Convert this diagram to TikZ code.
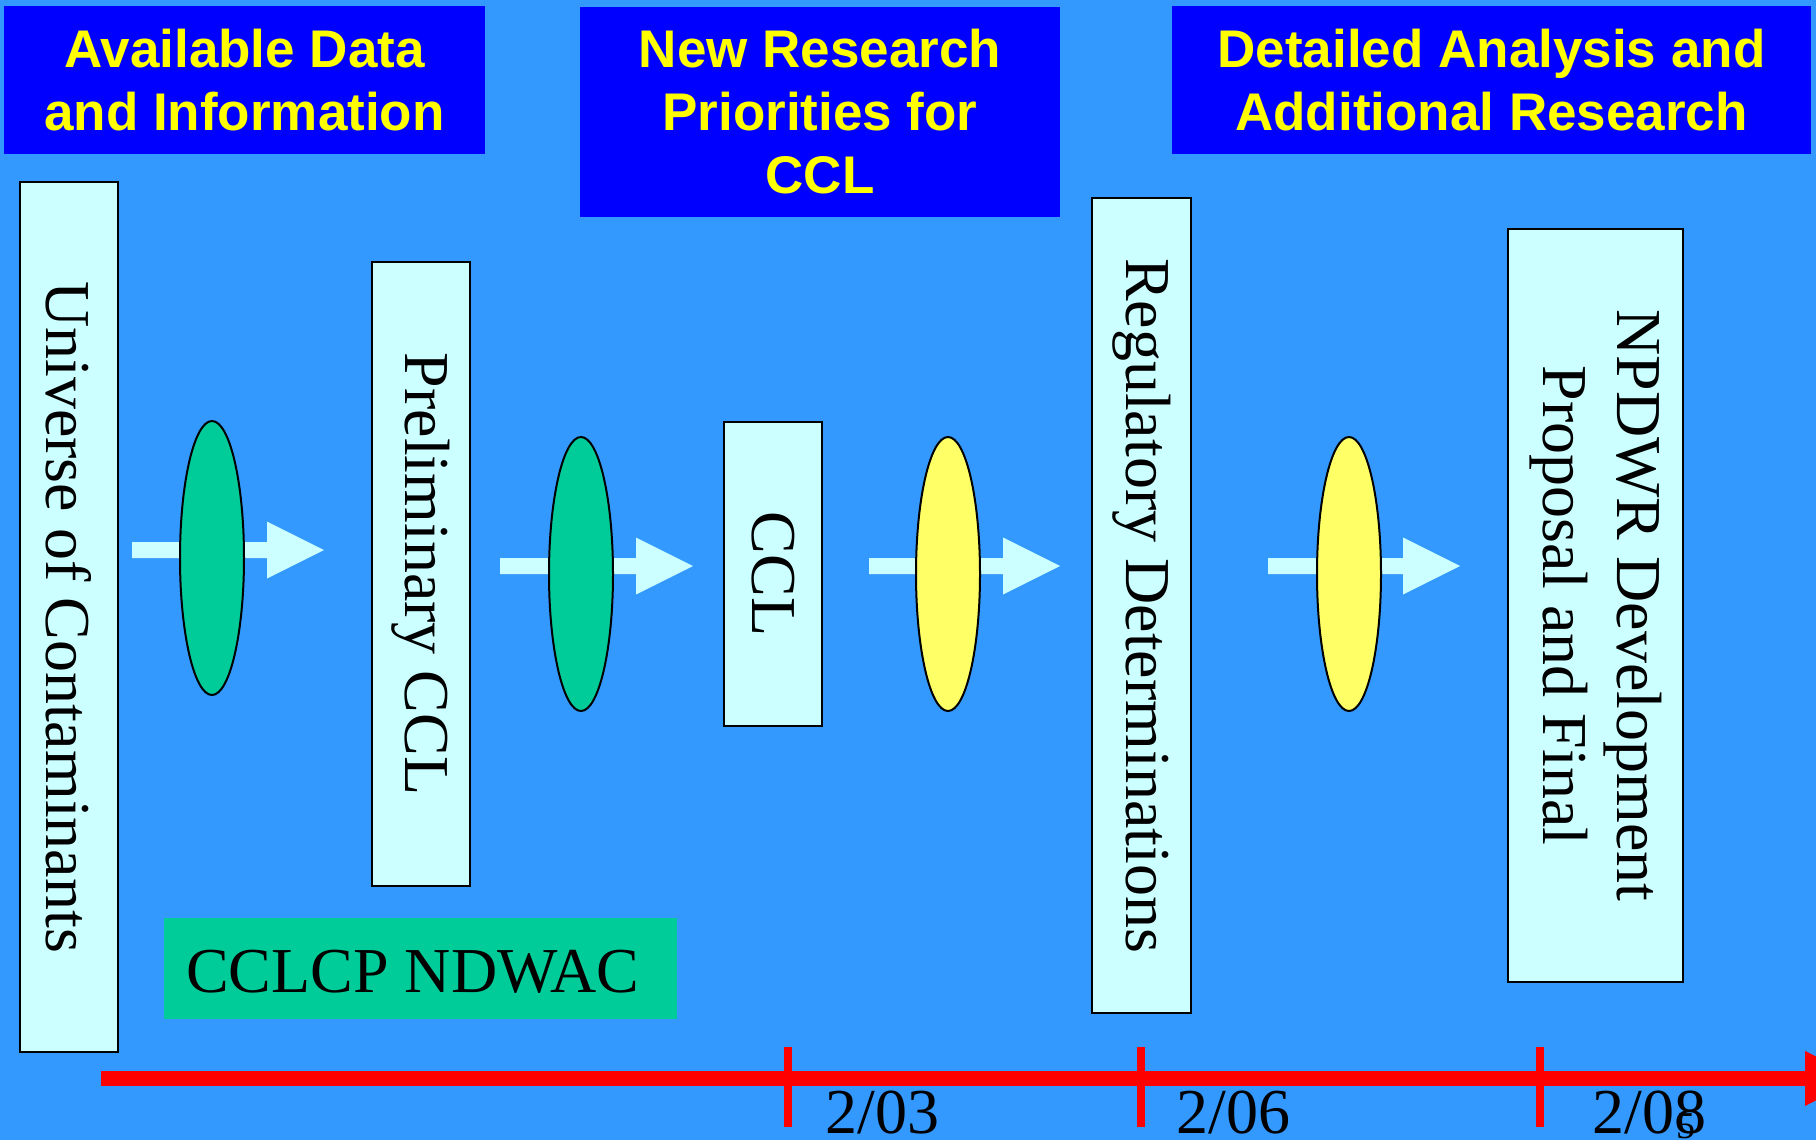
\documentclass[tikz,border=0pt]{standalone}
\usepackage{fontspec}
\setmainfont{Liberation Serif}
\newfontfamily\headfont{Liberation Sans}
\usetikzlibrary{shapes.geometric}

\definecolor{bgblue}{HTML}{3399FF}
\definecolor{headblue}{HTML}{0000FF}
\definecolor{headyellow}{HTML}{FFFF00}
\definecolor{paleCyan}{HTML}{CCFFFF}
\definecolor{seaGreen}{HTML}{00CC99}
\definecolor{paleYellow}{HTML}{FFFF66}
\definecolor{lineRed}{HTML}{FF0000}

\tikzset{
  header/.style={fill=headblue, text=headyellow, align=center, inner sep=0pt,
    font={\headfont\bfseries\fontsize{53}{63}\selectfont}},
  stage/.style={draw=black, line width=1.5pt, fill=paleCyan, rotate=-90,
    inner sep=0pt, align=center, font={\fontsize{64}{74}\selectfont}},
  gate/.style={ellipse, draw=black, line width=2pt, inner sep=0pt,
    minimum width=64pt, minimum height=274pt},
  greengate/.style={gate, fill=seaGreen},
  yellowgate/.style={gate, fill=paleYellow},
  flowfill/.style={fill=paleCyan},
  datelabel/.style={anchor=base west, inner sep=0pt, font={\fontsize{64}{74}\selectfont}},
}

% block arrow: start x, centre y, tip x
\newcommand{\flowarrow}[3]{%
  \fill[flowfill] ({#1},{#2-8}) -- ({#3-57},{#2-8}) -- ({#3-57},{#2-28.5})
    -- ({#3},{#2}) -- ({#3-57},{#2+28.5}) -- ({#3-57},{#2+8}) -- ({#1},{#2+8}) -- cycle;}

\begin{document}
\begin{tikzpicture}[x=1pt,y=-1pt]
  % canvas
  \fill[bgblue] (0,0) rectangle (1816,1140);
  \useasboundingbox (0,0) rectangle (1816,1140);
  \clip (0,0) rectangle (1816,1140);

  % phase headings
  \node[header, minimum width=481pt, minimum height=147pt] (h1) at (244.5,80)
    {Available Data\\and Information};
  \node[header, minimum width=480pt, minimum height=210pt] (h2) at (820,112)
    {New Research\\Priorities for\\CCL};
  \node[header, minimum width=639pt, minimum height=147pt] (h3) at (1491.5,80)
    {Detailed Analysis and\\Additional Research};

  % time line
  \coordinate (t0) at (101,1078);
  \coordinate (t1) at (1806,1078);
  \draw[lineRed, line width=15pt] (t0) -- (t1);
  \fill[lineRed] (1805,1051) -- (1860,1078) -- (1805,1106) -- cycle;
  \foreach \x in {788,1141,1540}{
    \draw[lineRed, line width=8pt] (\x,1047) -- (\x,1127);
  }
  \node[datelabel] (d1) at (825,1133) {2/03};
  \node[datelabel] (d2) at (1176,1133) {2/06};
  \node[datelabel] (d3) at (1592,1133) {2/08};
  \node[anchor=base, inner sep=0pt, font={\fontsize{38}{40}\selectfont}] (d3b) at (1686,1138) {5};

  % flow arrows
  \flowarrow{132}{550}{324}
  \flowarrow{500}{566}{693}
  \flowarrow{869}{566}{1060}
  \flowarrow{1268}{566}{1460}

  % review gates
  \node[greengate] (g1) at (212,558) {};
  \node[greengate] (g2) at (581,574) {};
  \node[yellowgate] (g3) at (948,574) {};
  \node[yellowgate] (g4) at (1349,574) {};

  % stages
  \node[stage, minimum width=870pt, minimum height=98pt] (s1) at (69,617)
    {Universe of Contaminants};
  \node[stage, minimum width=624pt, minimum height=98pt] (s2) at (421,574)
    {Preliminary CCL};
  \node[stage, minimum width=304pt, minimum height=98pt] (s3) at (773,574)
    {CCL};
  \node[stage, minimum width=815pt, minimum height=99pt] (s4) at (1141.5,605.5)
    {Regulatory Determinations};
  \node[stage, minimum width=753pt, minimum height=175pt] (s5) at (1595.5,605.5)
    {NPDWR Development\\Proposal and Final};

  % advisory groups
  \node[fill=seaGreen, minimum width=513pt, minimum height=101pt, inner sep=0pt]
    (grp) at (420.5,968.5) {};
  \node[anchor=base west, inner sep=0pt, font={\fontsize{64}{74}\selectfont}]
    (grptext) at (186,992) {CCLCP NDWAC};
\end{tikzpicture}
\end{document}
